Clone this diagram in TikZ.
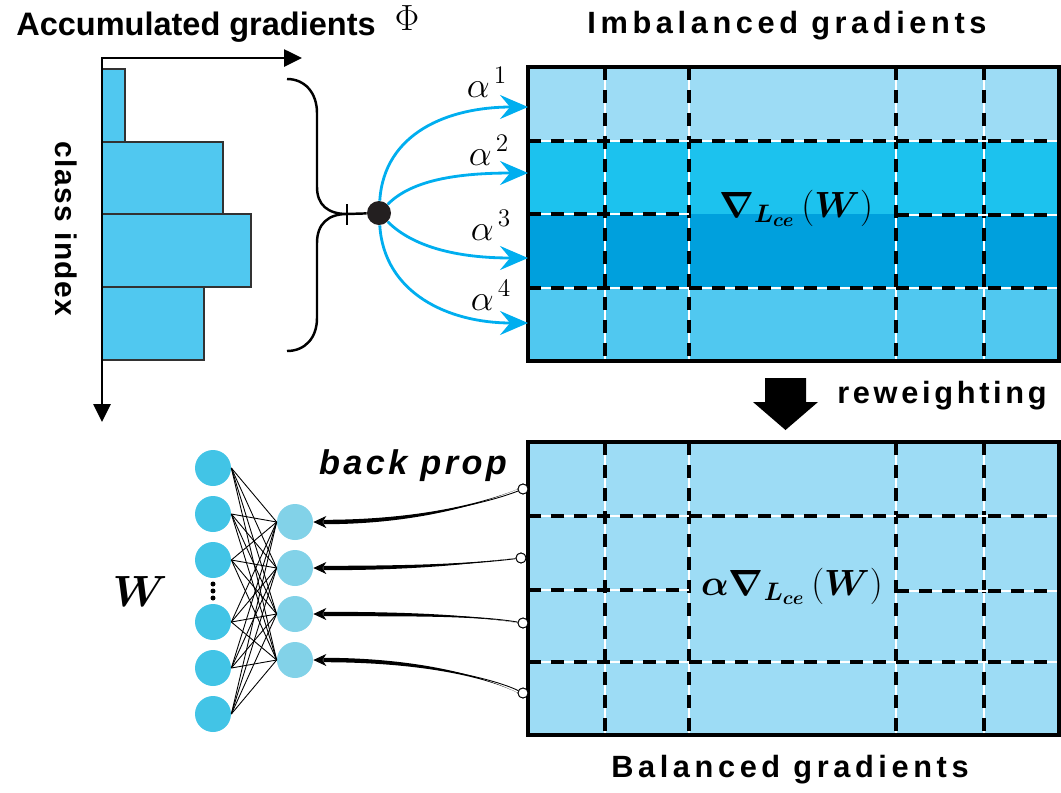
\documentclass[tikz,border=0pt]{standalone}
\usepackage{fontspec}
\usepackage{bm}
\setsansfont{Liberation Sans}
\usetikzlibrary{arrows.meta,calc}
\definecolor{rowA}{RGB}{157,220,245}
\definecolor{rowB}{RGB}{28,194,238}
\definecolor{rowC}{RGB}{0,160,221}
\definecolor{rowD}{RGB}{80,200,240}
\definecolor{barcol}{RGB}{80,200,240}
\definecolor{bargray}{RGB}{50,50,50}
\definecolor{incol}{RGB}{66,196,230}
\definecolor{hidcol}{RGB}{130,210,232}
\definecolor{alphacol}{RGB}{0,174,239}
\definecolor{dotcol}{RGB}{35,31,32}
\begin{document}
\begin{tikzpicture}[x=0.02cm,y=-0.02cm,
  bar/.style={fill=barcol, draw=bargray, line width=0.7pt},
  axis/.style={line width=1.5pt, {Triangle[length=0.36cm,width=0.34cm]}-{Triangle[length=0.36cm,width=0.34cm]}},
  brace/.style={line width=1.4pt},
  alphaarrow/.style={draw=alphacol, line width=1.6pt, -{Stealth[length=0.56cm,width=0.48cm,inset=0.2cm]}},
  alphalbl/.style={font=\fontsize{20}{24}\selectfont, anchor=base, inner sep=0},
  gridline/.style={line width=2pt, dash pattern=on 7.4pt off 5.7pt, preaction={draw=white, line width=0.6pt, solid}},
  gridframe/.style={line width=2.4pt},
  formula/.style={font=\fontsize{22}{26}\selectfont, anchor=base, inner sep=0},
  title/.style={font=\sffamily\bfseries\fontsize{17.5}{21}\selectfont\addfontfeature{LetterSpace=15}, anchor=base, inner sep=0},
  innode/.style={circle, fill=incol, inner sep=0, minimum size=0.72cm},
  hidnode/.style={circle, fill=hidcol, inner sep=0, minimum size=0.72cm},
  vdot/.style={circle, fill=black, inner sep=0, minimum size=0.1cm},
  edge/.style={line width=0.5pt},
  bpdot/.style={circle, draw, fill=white, line width=0.5pt, inner sep=0, minimum size=0.2cm},
  bparrow/.style={line width=0.5pt, -{Stealth[length=0.26cm,width=0.24cm,inset=0.08cm]}}]
\useasboundingbox (0,0) rectangle (1061,792);
\node[font=\sffamily\bfseries\fontsize{18.5}{22}\selectfont, anchor=base, inner sep=0] (acc) at (196,35) {Accumulated gradients};
\node[font=\fontsize{20}{24}\selectfont, anchor=base, inner sep=0] (phi) at (407,30) {$\Phi$};
\node[font=\sffamily\bfseries\fontsize{17}{20}\selectfont\addfontfeature{LetterSpace=5}, rotate=-90, inner sep=0] (cidx) at (66,229) {class index};
\fill[bar] (102,69) rectangle (125,142);
\fill[bar] (102,142) rectangle (223,214);
\fill[bar] (102,214) rectangle (251,287);
\fill[bar] (102,287) rectangle (204,360);
\coordinate (org) at (102,58);
\coordinate (xtip) at (302,58);
\coordinate (ytip) at (102,422);
\draw[axis] (xtip) -- (org) -- (ytip);
\coordinate (brtip) at (347,214);
\node[circle, fill=dotcol, inner sep=0, minimum size=0.48cm] (dot) at (379,213) {};
\draw[brace] (287,79) .. controls (305,79) and (317,93) .. (317,113) -- (317,187) .. controls (317,205) and (328,214) .. (brtip) .. controls (328,214) and (317,224) .. (317,243) -- (317,318) .. controls (317,338) and (305,351) .. (287,351);
\draw[brace] (347,204) -- (347,225);
\draw[brace] (brtip) -- (dot);
\fill[rowA] (528,67) rectangle (1059,141);
\fill[rowB] (528,141) rectangle (1059,214);
\fill[rowC] (528,214) rectangle (1059,288);
\fill[rowD] (528,288) rectangle (1059,361);
\draw[gridline] (605,67) -- (605,361);
\draw[gridline] (689,67) -- (689,361);
\draw[gridline] (896,67) -- (896,361);
\draw[gridline] (984,67) -- (984,361);
\draw[gridline] (528,141) -- (1059,141);
\draw[gridline] (528,214) -- (689,214);
\draw[gridline] (896,215) -- (1059,215);
\draw[gridline] (528,288) -- (1059,288);
\draw[gridframe] (528,67) rectangle (1059,361);
\node[formula] (gradA) at (796,217) {$\bm{\nabla}_{\bm{L}_{\bm{ce}}}\,(\bm{W})$};
\coordinate (t1) at (528,107);
\coordinate (t2) at (528,173);
\coordinate (t3) at (528,258);
\coordinate (t4) at (528,323);
\draw[alphaarrow] (dot) .. controls +(5,-80) and +(-80,0) .. (t1);
\draw[alphaarrow] (dot) .. controls +(30,-30) and +(-80,0) .. (t2);
\draw[alphaarrow] (dot) .. controls +(30,30) and +(-80,0) .. (t3);
\draw[alphaarrow] (dot) .. controls +(5,80) and +(-80,0) .. (t4);
\node[alphalbl] (al1) at (487,97) {$\alpha^{\,1}$};
\node[alphalbl] (al2) at (489,165) {$\alpha^{\,2}$};
\node[alphalbl] (al3) at (491,240) {$\alpha^{\,3}$};
\node[alphalbl] (al4) at (491,310) {$\alpha^{\,4}$};
\node[title] (imb) at (787,33) {Imbalanced gradients};
\fill (765,378) -- (806,378) -- (806,402) -- (818,402) -- (785.5,430) -- (753,402) -- (765,402) -- cycle;
\node[font=\sffamily\bfseries\fontsize{17.5}{21}\selectfont\addfontfeature{LetterSpace=12}, anchor=base, inner sep=0] (rew) at (942,403) {reweighting};
\fill[rowA] (528,442) rectangle (1059,735);
\draw[gridline] (605,442) -- (605,735);
\draw[gridline] (689,442) -- (689,735);
\draw[gridline] (896,442) -- (896,735);
\draw[gridline] (984,442) -- (984,735);
\draw[gridline] (528,516) -- (1059,516);
\draw[gridline] (528,590) -- (689,590);
\draw[gridline] (896,591) -- (1059,591);
\draw[gridline] (528,662) -- (1059,662);
\draw[gridframe] (528,442) rectangle (1059,735);
\node[formula] (gradB) at (792,595) {$\bm{\alpha\nabla}_{\bm{L}_{\bm{ce}}}\,(\bm{W})$};
\node[title] (bal) at (790,777) {Balanced gradients};
\node[font=\sffamily\bfseries\itshape\fontsize{19.5}{23}\selectfont\addfontfeature{LetterSpace=10}, anchor=base, inner sep=0] (bp) at (413,474) {back prop};
\node[font=\fontsize{26}{30}\selectfont, anchor=base, inner sep=0] (wlbl) at (140,606) {$\bm{W}$};
\node[innode] (in0) at (213,468) {};
\node[innode] (in1) at (213,514) {};
\node[innode] (in2) at (213,560) {};
\node[innode] (in3) at (213,622) {};
\node[innode] (in4) at (213,668) {};
\node[innode] (in5) at (213,714) {};
\node[vdot] (vd0) at (213,584) {};
\node[vdot] (vd1) at (213,591) {};
\node[vdot] (vd2) at (213,598) {};
\node[hidnode] (hid0) at (295,522) {};
\node[hidnode] (hid1) at (295,568) {};
\node[hidnode] (hid2) at (295,614) {};
\node[hidnode] (hid3) at (295,660) {};
\draw[edge] (in0.east) -- (hid0.west);
\draw[edge] (in0.east) -- (hid1.west);
\draw[edge] (in0.east) -- (hid2.west);
\draw[edge] (in0.east) -- (hid3.west);
\draw[edge] (in1.east) -- (hid0.west);
\draw[edge] (in1.east) -- (hid1.west);
\draw[edge] (in1.east) -- (hid2.west);
\draw[edge] (in1.east) -- (hid3.west);
\draw[edge] (in2.east) -- (hid0.west);
\draw[edge] (in2.east) -- (hid1.west);
\draw[edge] (in2.east) -- (hid2.west);
\draw[edge] (in2.east) -- (hid3.west);
\draw[edge] (in3.east) -- (hid0.west);
\draw[edge] (in3.east) -- (hid1.west);
\draw[edge] (in3.east) -- (hid2.west);
\draw[edge] (in3.east) -- (hid3.west);
\draw[edge] (in4.east) -- (hid0.west);
\draw[edge] (in4.east) -- (hid1.west);
\draw[edge] (in4.east) -- (hid2.west);
\draw[edge] (in4.east) -- (hid3.west);
\draw[edge] (in5.east) -- (hid0.west);
\draw[edge] (in5.east) -- (hid1.west);
\draw[edge] (in5.east) -- (hid2.west);
\draw[edge] (in5.east) -- (hid3.west);
\node[bpdot] (cir0) at (523,489) {};
\node[bpdot] (cir1) at (521,558) {};
\node[bpdot] (cir2) at (523,623) {};
\node[bpdot] (cir3) at (523,693) {};
\fill ($(cir0)+(-5,0)$) .. controls +(-30,12) and +(100,0) .. ($(hid0.east)+(10,-2.2)$) -- ($(hid0.east)+(10,2.2)$) .. controls +(100,0) and +(-30,12) .. ($(cir0)+(-5,0)$) -- cycle;
\fill ($(cir1)+(-5,0)$) .. controls +(-40,5) and +(100,0) .. ($(hid1.east)+(10,-2.2)$) -- ($(hid1.east)+(10,2.2)$) .. controls +(100,0) and +(-40,5) .. ($(cir1)+(-5,0)$) -- cycle;
\fill ($(cir2)+(-5,0)$) .. controls +(-40,-7) and +(100,0) .. ($(hid2.east)+(10,-2.2)$) -- ($(hid2.east)+(10,2.2)$) .. controls +(100,0) and +(-40,-7) .. ($(cir2)+(-5,0)$) -- cycle;
\fill ($(cir3)+(-5,0)$) .. controls +(-30,-15) and +(100,0) .. ($(hid3.east)+(10,-2.2)$) -- ($(hid3.east)+(10,2.2)$) .. controls +(100,0) and +(-30,-15) .. ($(cir3)+(-5,0)$) -- cycle;
\draw[bparrow] (cir0) .. controls +(-30,12) and +(100,0) .. (hid0.east);
\draw[bparrow] (cir1) .. controls +(-40,5) and +(100,0) .. (hid1.east);
\draw[bparrow] (cir2) .. controls +(-40,-7) and +(100,0) .. (hid2.east);
\draw[bparrow] (cir3) .. controls +(-30,-15) and +(100,0) .. (hid3.east);
\node[bpdot] at (cir0) {};
\node[bpdot] at (cir1) {};
\node[bpdot] at (cir2) {};
\node[bpdot] at (cir3) {};
\end{tikzpicture}
\end{document}
